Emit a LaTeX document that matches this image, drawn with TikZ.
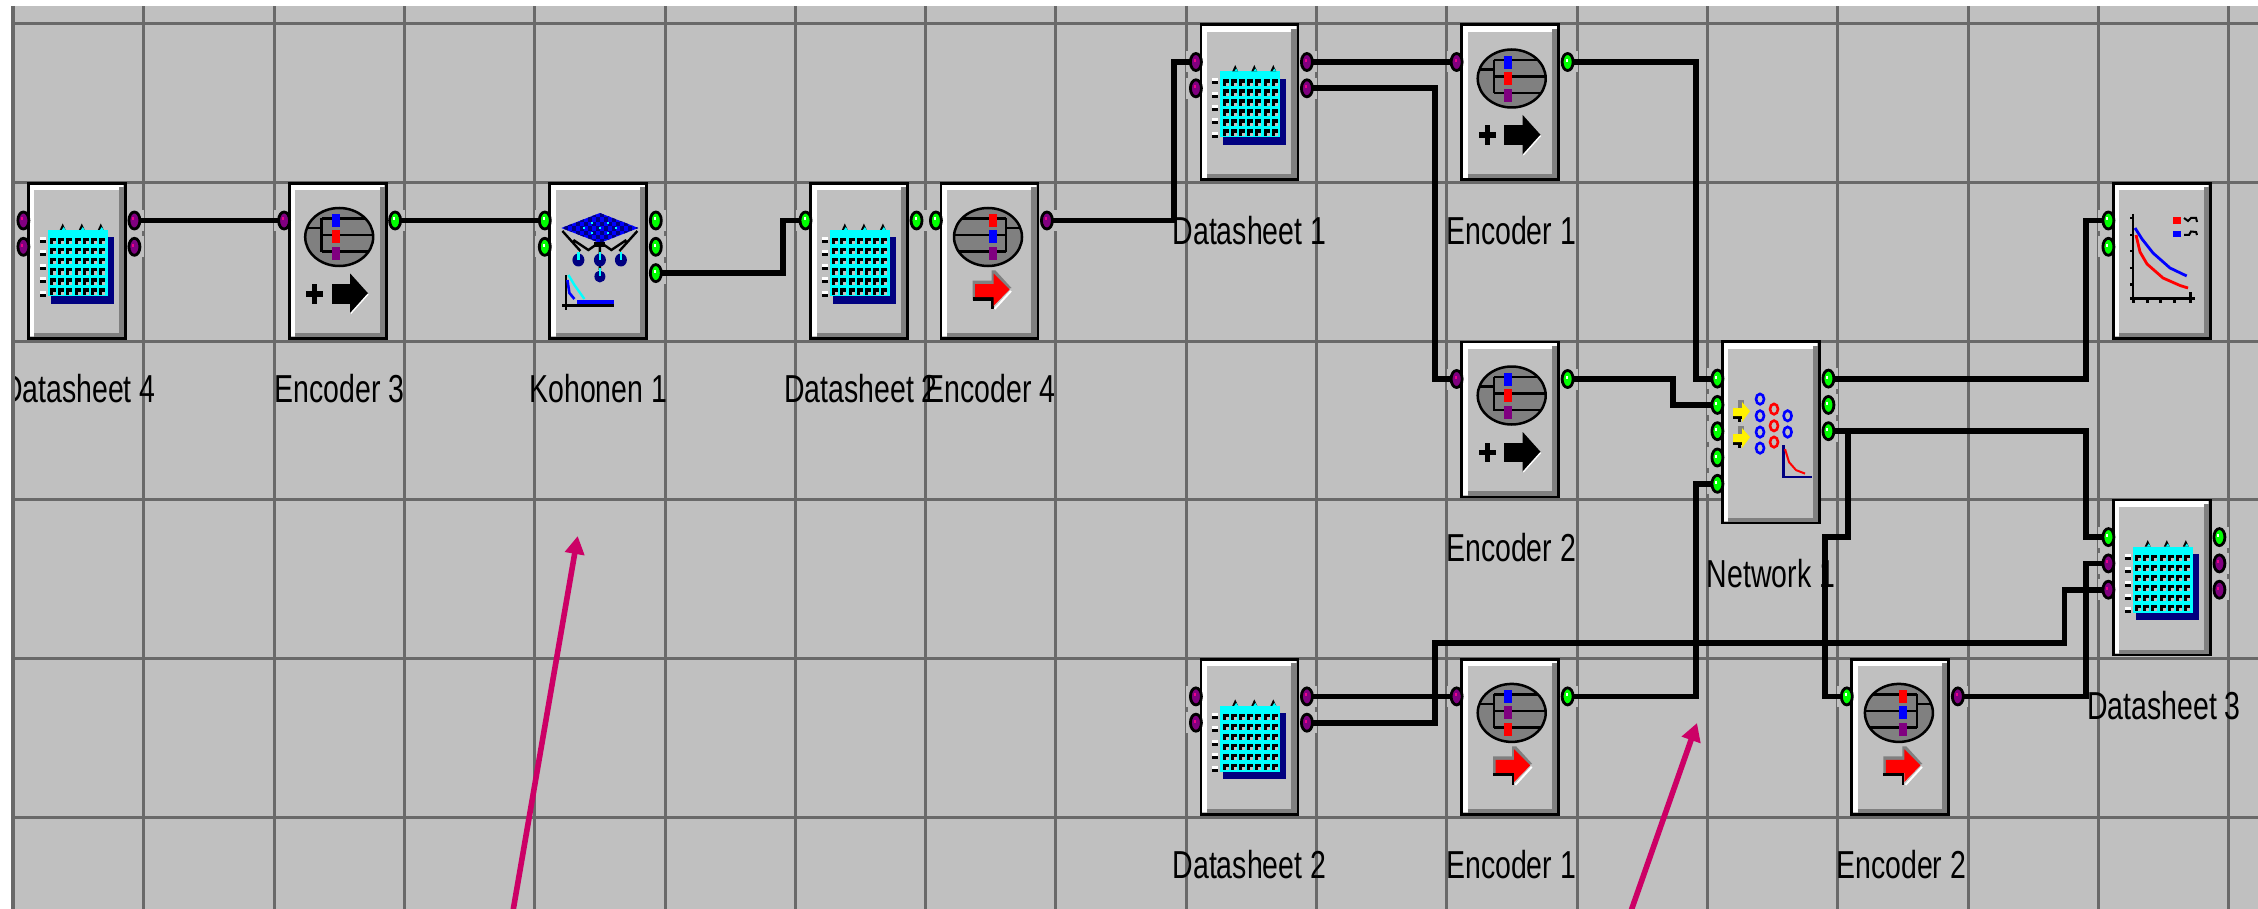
\documentclass[tikz,border=0pt]{standalone}
\usepackage{fontspec}
\usepackage{xcolor}
\usepackage{tikz}
\usetikzlibrary{arrows.meta,positioning,calc,backgrounds,shapes.geometric}
\newfontfamily\tagfont[FakeStretch=0.73]{Liberation Sans}
\definecolor{deskcol}{RGB}{192,192,192}
\definecolor{gridcol}{RGB}{105,105,105}
\definecolor{shadecol}{RGB}{128,128,128}
\definecolor{portgreen}{RGB}{0,255,0}
\definecolor{portpurple}{RGB}{128,0,128}
\definecolor{darkblue}{RGB}{0,0,128}
\definecolor{sheetcyan}{RGB}{0,255,255}
\definecolor{notecol}{RGB}{204,0,102}
\begin{document}
\begin{tikzpicture}[
    x=1pt, y=-1pt,
    gridline/.style={gridcol, line width=3pt},
    block/.style={
        rectangle, draw=black, line width=2.8pt, fill=deskcol, inner sep=0pt, outer sep=0pt,
        minimum width=97pt, minimum height=155pt,
        path picture={
            \coordinate (nw) at (path picture bounding box.north west);
            \coordinate (se) at (path picture bounding box.south east);
            \fill[white] (nw) rectangle ($(nw -| se)+(-2pt,-7pt)$);
            \fill[white] (nw) rectangle ($(nw |- se)+(6pt,2pt)$);
            \fill[shadecol] (se) rectangle ($(se |- nw)+(-6.5pt,-4pt)$);
            \fill[shadecol] (se) rectangle ($(se -| nw)+(6pt,5.5pt)$);
        }
    },
    port/.style={ellipse, draw=black, line width=2.8pt, inner sep=0pt, outer sep=0pt,
        minimum width=11pt, minimum height=17pt},
    portg/.style={port, fill=portgreen, path picture={
        \fill[white] ($(path picture bounding box.center)+(-2pt,3pt)$) rectangle ++(2,3);}},
    portp/.style={port, fill=portpurple, path picture={
        \fill[magenta] ($(path picture bounding box.center)+(-2pt,3pt)$) rectangle ++(2,3);}},
    wire/.style={black, line width=5.8pt},
    tag/.style={font=\tagfont\fontsize{39}{39}\selectfont, inner sep=0pt, outer sep=0pt},
    pointer/.style={-{Triangle[length=18pt,width=19pt]}, notecol, line width=5.6pt},
    pics/dsicon/.style={code={
        \fill[darkblue] (23.5,55.5) rectangle (86.5,121.5);
        \fill[sheetcyan] (20.5,48) rectangle (80.5,114);
        \foreach \rw in {0,...,5} \foreach \cl in {0,...,6} {
            \fill[black] ({23+8.2*\cl},{56+10*\rw}) rectangle ++(6,6.5);
            \fill[deskcol] ({26+8.2*\cl},{59.5+10*\rw}) rectangle ++(3,3);
        }
        \foreach \cl in {35.7,54.8,73.8} {
            \fill[black] (\cl-3,48) -- (\cl,41.5) -- (\cl+3,48) -- cycle;
            \fill[sheetcyan] (\cl-1,48) -- (\cl+1,45) -- (\cl+3,48) -- cycle;
        }
        \foreach \rw in {58,71.5,85,98,111.5} {
            \fill[white] (12.5,\rw-3) rectangle (18.5,\rw);
            \fill[black] (12.5,\rw) rectangle (18.5,\rw+3);
        }
    }},
    % colours top to bottom, globe centre, spine, left of the bars
    pics/globe/.style n args={6}{code={
        \fill[shadecol] (#4,55) ellipse (34 and 29);
        \begin{scope}
            \clip (#4,55) ellipse (34 and 29);
            \draw[black, line width=2.5pt] (#5,36.5) -- (#5,70);
            \foreach \rw in {36.5,53,69.5} \draw[black, line width=2.5pt] (#5,\rw) -- ({#4+3*(#4-#5)},\rw);
            \draw[black, line width=2.5pt] (#5,46) -- ({#5-3*(#4-#5)},46);
        \end{scope}
        \draw[black, line width=2.5pt] (#4,55) ellipse (34 and 29);
        \fill[#1] (#6,32.5) rectangle ++(8,13);
        \fill[#2] (#6,48.5) rectangle ++(8,13);
        \fill[#3] (#6,65.5) rectangle ++(8,13);
    }},
    pics/plusarrow/.style={code={
        \fill[black] (18.5,109) rectangle (35.5,114.5);
        \fill[black] (24.5,102) rectangle (29.5,121.5);
        \fill[black] (44,102) rectangle (62.5,121.5);
        \fill[black] (62.5,91.5) -- (80.5,111.5) -- (62.5,131.5) -- cycle;
        \draw[white, line width=1.4pt] (80.5,112) -- (63,131.5);
    }},
    pics/redarrow/.style={code={
        \fill[shadecol] (33,98.5) -- (52,98.5) -- (52,88.5) -- (56,88.5) -- (72,106) -- (33,118) -- cycle;
        \fill[black] (33,115) rectangle (54,118.5);
        \fill[black] (51.5,115) rectangle (54,127);
        \draw[white, line width=2pt] (71.5,109) -- (55,127);
        \fill[red] (35.5,102) -- (54,102) -- (54,91.5) -- (70,107.5) -- (54,124) -- (54,115) -- (35.5,115) -- cycle;
    }},
    pics/somicon/.style={code={
        \draw[black, line width=2.4pt] (14,49) -- (32,69) (89,49) -- (71,69)
            (25,58) -- (40,68) -- (51.5,60) -- (63,68) -- (78,58) (51.5,60) -- (51.5,88);
        \begin{scope}
            \clip (13,46) -- (51.5,31) -- (90,46) -- (51.5,61) -- cycle;
            \fill[blue] (13,31) rectangle (90,61);
            \foreach \rw/\st in {0/0,1/4,2/0,3/4,4/0,5/4,6/0} \foreach \cl in {0,...,9}
                \fill[darkblue] ({12+\st+8*\cl},{31+4.4*\rw}) rectangle ++(4,4.4);
            \foreach \cl/\rw in {35/45,43/40,59/40,67/45,51/45,43/50,59/50}
                \fill[sheetcyan] (\cl,\rw) rectangle ++(2,2);
        \end{scope}
        \fill[black] (46,60) rectangle (57,65);
        \foreach \cl in {30,51.5,72.5} {
            \fill[darkblue] (\cl,78) ellipse (6 and 6.5);
            \fill[sheetcyan] (\cl-1,70) rectangle ++(2.5,8);
        }
        \fill[darkblue] (51.5,94.5) ellipse (5.5 and 6);
        \fill[sheetcyan] (50.5,86) rectangle ++(2.5,8);
        \draw[black, line width=2.2pt] (17.5,93) -- (17.5,128);
        \fill[black] (13.5,121.5) rectangle (66,125);
        \fill[blue] (29,118) rectangle (66,121.5);
        \draw[sheetcyan, line width=2.4pt] (20,93) -- (26,103) -- (36,117);
        \draw[blue, line width=2.6pt] (19,98) -- (21,111) -- (26,117);
    }},
    pics/neticon/.style={code={
        \foreach \rw in {0,26} {
            \fill[shadecol] (17,60+\rw) rectangle (23,68+\rw);
            \fill[black] (12,76+\rw) rectangle (23,79+\rw);
            \fill[black] (17,79+\rw) rectangle (20,82+\rw);
            \fill[yellow] (12,68+\rw) -- (21,68+\rw) -- (21,62+\rw) -- (29,71+\rw) -- (21,82+\rw) -- (21,76+\rw) -- (12,76+\rw) -- cycle;
        }
        \foreach \cl/\rw in {39/59,39/75.7,39/92,39/108,66.6/75.7,66.6/92}
            \draw[blue, line width=2.6pt] (\cl,\rw) ellipse (4 and 5.2);
        \foreach \cl/\rw in {53/69,53/85.7,53/102}
            \draw[red, line width=2.6pt] (\cl,\rw) ellipse (4 and 5.2);
        \draw[darkblue, line width=2.4pt] (62.4,105) -- (62.4,137) -- (91,137);
        \draw[red, line width=2pt] (64,109) -- (68,122) -- (75,130) -- (84,133.5);
    }},
    pics/ploticon/.style={code={
        \draw[black, line width=2.2pt] (21.3,32) -- (21.3,120.7) (18,116.5) -- (83,116.5);
        \foreach \rw in {35,52,68,85,101} \fill[black] (18,\rw) rectangle (21,\rw+2.5);
        \foreach \cl in {21,35,48,62,78} \fill[black] (\cl-1.5,116) rectangle (\cl+1.5,121);
        \fill[black] (76.5,110) rectangle (79.5,116);
        \draw[blue, line width=2.8pt] (23,46) -- (30,57) -- (41,71) -- (58,86) -- (74.7,94);
        \draw[red, line width=2.8pt] (24,53) -- (28,70) -- (35,82) -- (51,96) -- (68,103.5) -- (76,106);
        \fill[red] (61,35) rectangle (69,42);
        \fill[blue] (61,48.7) rectangle (69,55.3);
        \draw[black, line width=2pt] (72,36) -- (76,39) -- (79,36) -- (84,36) -- (85,40);
        \draw[black, line width=2pt] (72,53) -- (77,53) -- (79,49.5) -- (84,50) -- (85,53);
    }}
]
\useasboundingbox (0,0) rectangle (2258,909);

% desk and grid
\begin{pgfonlayer}{background}
\fill[deskcol] (0,0) rectangle (2258,909);
\foreach \k in {1,...,17} \draw[gridline] ({13.5+130.3*\k},0) -- ++(0,909);
\foreach \k in {0,...,5} \draw[gridline] (0,{24+158.6*\k}) -- ++(2258,0);
\end{pgfonlayer}

% blocks
\node[block, anchor=north west] (ds4) at (28.4,183.4) {};
\node[block, right=163.7pt of ds4] (enc3) {};
\node[block, right=163.7pt of enc3] (koh1) {};
\node[block, right=163.7pt of koh1] (ds2a) {};
\node[block, right=33.4pt of ds2a] (enc4) {};
\node[block, anchor=north west] (ds1) at (1200.9,24.9) {};
\node[block, right=163.7pt of ds1] (enc1a) {};
\node[block, below=162pt of enc1a] (enc2a) {};
\node[block, anchor=north west, minimum height=181.5pt] (net1) at (1722.4,341.5) {};
\node[block, anchor=north west] (plot1) at (2113.4,183.4) {};
\node[block, below=161.6pt of plot1] (ds3) {};
\node[block, anchor=north west] (ds2b) at (1200.9,659.3) {};
\node[block, right=163.7pt of ds2b] (enc1b) {};
\node[block, right=293.2pt of enc1b] (enc2b) {};

% icons
\foreach \nd in {ds4,ds2a,ds1,ds3,ds2b} \pic[shift={(-1.4,-1.4)}] at (\nd.north west) {dsicon};
\pic[shift={(-1.4,-1.4)}] at (enc3.north west) {globe={blue}{red}{portpurple}{51.5}{34}{44}};
\pic[shift={(-1.4,-1.4)}] at (enc1a.north west) {globe={blue}{red}{portpurple}{51.5}{34}{44}};
\pic[shift={(-1.4,-1.4)}] at (enc2a.north west) {globe={blue}{red}{portpurple}{51.5}{34}{44}};
\pic[shift={(-1.4,-1.4)}] at (enc1b.north west) {globe={blue}{portpurple}{red}{51.5}{34}{44}};
\pic[shift={(-1.4,-1.4)}] at (enc4.north west) {globe={red}{blue}{portpurple}{48.5}{66.5}{49}};
\pic[shift={(-1.4,-1.4)}] at (enc2b.north west) {globe={red}{blue}{portpurple}{48.5}{66.5}{49}};
\foreach \nd in {enc3,enc1a,enc2a} \pic[shift={(-1.4,-1.4)}] at (\nd.north west) {plusarrow};
\foreach \nd in {enc4,enc1b,enc2b} \pic[shift={(-1.4,-1.4)}] at (\nd.north west) {redarrow};
\pic[shift={(-1.4,-1.4)}] at (koh1.north west) {somicon};
\pic[shift={(-1.4,-1.4)}] at (net1.north west) {neticon};
\pic[shift={(-1.4,-1.4)}] at (plot1.north west) {ploticon};

% ports
\foreach \nd/\i/\col in {ds4/1/portp,ds4/2/portp,enc3/1/portp,koh1/1/portg,koh1/2/portg,ds2a/1/portg,enc4/1/portg,
    ds1/1/portp,ds1/2/portp,enc1a/1/portp,enc2a/1/portp,net1/1/portg,net1/2/portg,net1/3/portg,net1/4/portg,net1/5/portg,
    plot1/1/portg,plot1/2/portg,ds3/1/portg,ds3/2/portp,ds3/3/portp,ds2b/1/portp,ds2b/2/portp,enc1b/1/portp,enc2b/1/portg} {
    \node[\col] (\nd l\i) at ($(\nd.north west)+(-5,10.8+26.3*\i)$) {};
    \begin{pgfonlayer}{background}
    \fill[deskcol] ($(\nd l\i)+(-10,-10.5)$) rectangle ++(20,21);
    \end{pgfonlayer}
}
\foreach \nd/\i/\col in {ds4/1/portp,ds4/2/portp,enc3/1/portg,koh1/1/portg,koh1/2/portg,koh1/3/portg,ds2a/1/portg,enc4/1/portp,
    ds1/1/portp,ds1/2/portp,enc1a/1/portg,enc2a/1/portg,net1/1/portg,net1/2/portg,net1/3/portg,
    ds3/1/portg,ds3/2/portp,ds3/3/portp,ds2b/1/portp,ds2b/2/portp,enc1b/1/portg,enc2b/1/portp} {
    \node[\col] (\nd r\i) at ($(\nd.north east)+(9,10.8+26.3*\i)$) {};
    \begin{pgfonlayer}{background}
    \fill[deskcol] ($(\nd r\i)+(-10,-10.5)$) rectangle ++(20,21);
    \end{pgfonlayer}
}

% wires
\draw[wire] (ds4r1.east) -- (enc3l1.west);
\draw[wire] (enc3r1.east) -- (koh1l1.west);
\draw[wire] (koh1r3.east) -- ++(121.5,0) |- (ds2al1.west);
\draw[wire] (enc4r1.east) -- ++(121.5,0) |- (ds1l1.west);
\draw[wire] (ds1r1.east) -- (enc1al1.west);
\draw[wire] (ds1r2.east) -- ++(122.5,0) |- (enc2al1.west);
\draw[wire] (enc1ar1.east) -- ++(122.9,0) |- (net1l1.west);
\draw[wire] (enc2ar1.east) -- ++(99.9,0) |- (net1l2.west);
\draw[wire] (net1r1.east) -- ++(252.1,0) |- (plot1l1.west);
\draw[wire] (net1r3.east) -- ++(252.1,0) |- (ds3l1.west);
\draw[wire] (net1r3.east) -- ++(14,0) -- ++(0,105.8) -- ++(-23,0) |- (enc2bl1.west);
\draw[wire] (enc1br1.east) -- ++(122.9,0) |- (net1l5.west);
\draw[wire] (ds2br1.east) -- (enc1bl1.west);
\draw[wire] (ds2br2.east) -- ++(122.5,0) -- ++(0,-79.7) -- ++(629.5,0) |- (ds3l3.west);
\draw[wire] (enc2br1.east) -- ++(122.7,0) |- (ds3l2.west);

% names
\node[tag, below=36pt of ds4, xshift=2pt] (ds4tag) {Datasheet 4};
\node[tag, below=36pt of enc3, xshift=2pt] (enc3tag) {Encoder 3};
\node[tag, below=36pt of koh1] (koh1tag) {Kohonen 1};
\node[tag, below=36pt of ds2a, xshift=2pt] (ds2atag) {Datasheet 2};
\node[tag, below=36pt of enc4, xshift=1pt] (enc4tag) {Encoder 4};
\node[tag, below=36pt of ds1] (ds1tag) {Datasheet 1};
\node[tag, below=36pt of enc1a, xshift=1pt] (enc1atag) {Encoder 1};
\node[tag, below=36pt of enc2a, xshift=1pt] (enc2atag) {Encoder 2};
\node[tag, below=36pt of net1] (net1tag) {Network 1};
\node[tag, below=36pt of ds3, xshift=2pt] (ds3tag) {Datasheet 3};
\node[tag, below=36pt of ds2b] (ds2btag) {Datasheet 2};
\node[tag, below=36pt of enc1b, xshift=1pt] (enc1btag) {Encoder 1};
\node[tag, below=36pt of enc2b, xshift=1pt] (enc2btag) {Encoder 2};

% window edge
\fill[white] (0,0) rectangle (2258,6);
\fill[white] (0,0) rectangle (10.5,909);
\draw[gridcol, line width=3.6pt] (13,6) -- (13,909);

% notes
\coordinate (notea) at (513,911);
\coordinate (noteatip) at (577.7,536);
\coordinate (noteb) at (1631,911);
\coordinate (notebtip) at (1697,723);
\draw[pointer] (notea) -- (noteatip);
\draw[pointer] (noteb) -- (notebtip);
\end{tikzpicture}
\end{document}
